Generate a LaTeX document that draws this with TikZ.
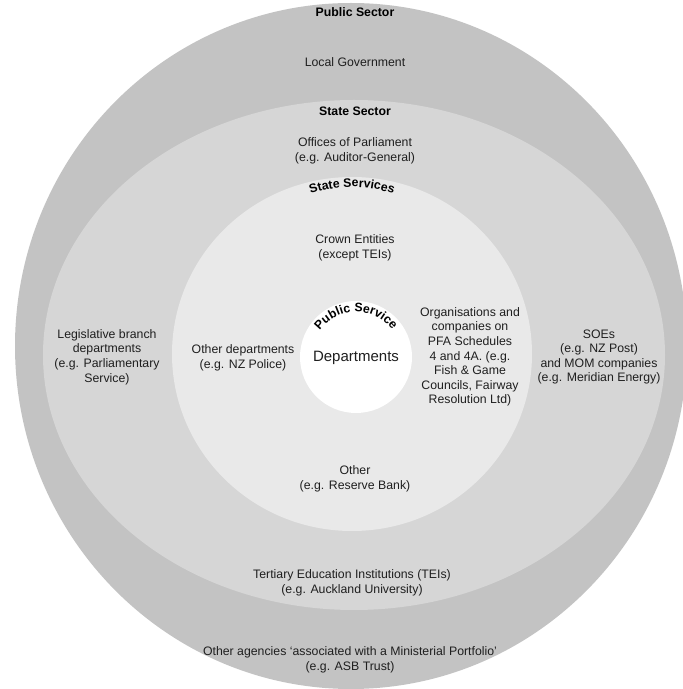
\documentclass[tikz,border=0pt]{standalone}
\usepackage{fontspec}
\setmainfont{Liberation Sans}
\usetikzlibrary{decorations.text}
\definecolor{sectorgrey}{RGB}{195,195,195}
\definecolor{stategrey}{RGB}{214,214,214}
\definecolor{servgrey}{RGB}{233,233,233}
\tikzset{
  lbl/.style={align=center,inner sep=0pt,text=black!88,font=\fontsize{12.3}{14.6}\selectfont},
  ttl/.style={inner sep=0pt,font=\fontsize{12.3}{14}\selectfont\bfseries},
  arctext/.style={decorate,decoration={text along path,text align=center,text={|\fontsize{12.3}{14}\selectfont\bfseries|#1}}}
}
\begin{document}
\begin{tikzpicture}[x=1pt,y=1pt]
\useasboundingbox (0,0) rectangle (683,689);

% the four rings
\fill[sectorgrey] (351,343) ellipse [x radius=336,y radius=343];
\fill[stategrey] (354,334) ellipse [x radius=311,y radius=255];
\fill[servgrey] (352,335) ellipse [x radius=180,y radius=177];
\fill[white] (356,332) circle [radius=56];

% public sector
\node[ttl] (pubsector) at (355,677) {Public Sector};
\node[lbl] (localgov) at (355,627) {Local Government};
\node[lbl] (agencies) at (350,29) {Other agencies ‘associated with a Ministerial Portfolio’\\(e.g. ASB Trust)};

% state sector
\node[ttl] (statesector) at (355,578) {State Sector};
\node[lbl] (offices) at (355,538) {Offices of Parliament\\(e.g. Auditor-General)};
\node[lbl] (legis) at (107,332) {Legislative branch\\departments\\(e.g. Parliamentary\\Service)};
\node[lbl] (soes) at (599,332) {SOEs\\(e.g. NZ Post)\\and MOM companies\\(e.g. Meridian Energy)};
\node[lbl] (teis) at (352,106) {Tertiary Education Institutions (TEIs)\\(e.g. Auckland University)};

% state services
\path[arctext=State Services] (352,377) ++(120:125) arc [start angle=120,end angle=60,radius=125];
\node[lbl] (crown) at (355,441) {Crown Entities\\(except TEIs)};
\node[lbl] (otherdept) at (243,331) {Other departments\\(e.g. NZ Police)};
\node[lbl] (orgs) at (470,332) {Organisations and\\companies on\\PFA Schedules\\4 and 4A. (e.g.\\Fish \& Game\\Councils, Fairway\\Resolution Ltd)};
\node[lbl] (other) at (355,210) {Other\\(e.g. Reserve Bank)};

% public service
\path[arctext=Public Service] (356,332) ++(150:45) arc [start angle=150,end angle=30,radius=45];
\node[lbl,font=\fontsize{15}{18}\selectfont] (depts) at (356,331) {Departments};
\end{tikzpicture}
\end{document}
